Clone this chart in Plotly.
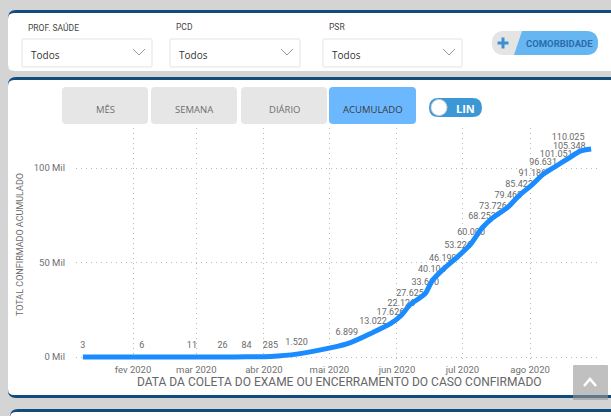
import plotly.graph_objects as go

# ---------------- data ----------------
dates = ["2020-01-09", "2020-02-05", "2020-02-28", "2020-03-13", "2020-03-24",
         "2020-04-04", "2020-04-16", "2020-05-09", "2020-05-21", "2020-05-29",
         "2020-06-03", "2020-06-07", "2020-06-14", "2020-06-17", "2020-06-22",
         "2020-06-29", "2020-07-05", "2020-07-10", "2020-07-15", "2020-07-22",
         "2020-07-27", "2020-08-02", "2020-08-07", "2020-08-13", "2020-08-19",
         "2020-08-24", "2020-08-29"]
values = [3, 6, 11, 26, 84, 285, 1520, 6899, 13022, 17626,
          22126, 27625, 33610, 40104, 46199, 53226, 60000, 68253, 73726, 79463,
          85422, 91186, 96631, 101051, 105348, 108900, 110025]
point_labels = ["3", "6", "11", "26", "84", "285", "1.520", "6.899", "13.022", "17.626",
                "22.126", "27.625", "33.610", "40.104", "46.199", "53.226", "60.000",
                "68.253", "73.726", "79.463", "85.422", "91.186", "96.631", "101.051",
                "105.348", "", "110.025"]

x_tick_vals = ["2020-02-01", "2020-03-01", "2020-04-01", "2020-05-01",
               "2020-06-01", "2020-07-01", "2020-08-01"]
x_tick_text = ["fev 2020", "mar 2020", "abr 2020", "mai 2020",
               "jun 2020", "jul 2020", "ago 2020"]
y_tick_vals = [0, 50000, 100000]
y_tick_text = ["0 Mil", "50 Mil", "100 Mil"]

filters = ["PROF. SAÚDE", "PCD", "PSR"]
filter_values = ["Todos", "Todos", "Todos"]
buttons = ["MÊS", "SEMANA", "DIÁRIO", "ACUMULADO"]
active_button = "ACUMULADO"

# ---------------- geometry helpers ----------------
W, H = 611, 416
L, R, T, B = 76, 13, 128, 54
PW = W - L - R
PH = H - T - B


def px(x):
    return (x - L) / PW


def py(y):
    return (H - B - y) / PH


def pt(x, y):
    return f"{px(x):.5f},{py(y):.5f}"


def rrect(x0, y0, x1, y1, r, tl=True, tr=True, br=True, bl=True):
    p = []
    p.append("M" + pt(x0 + (r if tl else 0), y0))
    if tr:
        p.append("L" + pt(x1 - r, y0))
        p.append("Q" + pt(x1, y0) + " " + pt(x1, y0 + r))
    else:
        p.append("L" + pt(x1, y0))
    if br:
        p.append("L" + pt(x1, y1 - r))
        p.append("Q" + pt(x1, y1) + " " + pt(x1 - r, y1))
    else:
        p.append("L" + pt(x1, y1))
    if bl:
        p.append("L" + pt(x0 + r, y1))
        p.append("Q" + pt(x0, y1) + " " + pt(x0, y1 - r))
    else:
        p.append("L" + pt(x0, y1))
    if tl:
        p.append("L" + pt(x0, y0 + r))
        p.append("Q" + pt(x0, y0) + " " + pt(x0 + r, y0))
    else:
        p.append("L" + pt(x0, y0))
    p.append("Z")
    return " ".join(p)


shapes = []
annotations = []


def add_path(path, fill=None, line_color=None, line_width=0, layer="above"):
    shapes.append(dict(type="path", xref="paper", yref="paper", path=path,
                       fillcolor=fill if fill else "rgba(0,0,0,0)",
                       line=dict(color=line_color if line_color else "rgba(0,0,0,0)",
                                 width=line_width),
                       layer=layer))


def add_text(x, y, text, size, color, family="Open Sans, sans-serif",
             xanchor="center", angle=0):
    annotations.append(dict(x=px(x), y=py(y), xref="paper", yref="paper", text=text,
                            showarrow=False, xanchor=xanchor, yanchor="middle",
                            textangle=angle,
                            font=dict(size=size, color=color, family=family)))


BLUE_DARK = "#134b7c"

# panels
add_path(rrect(8, 10, 640, 71, 8), fill=BLUE_DARK, layer="below")
add_path(rrect(8, 13, 640, 71, 6), fill="white", layer="below")
add_path(rrect(8, 77, 640, 398, 8), fill=BLUE_DARK, layer="below")
add_path(rrect(8, 80, 640, 395, 6), fill="white", layer="below")
add_path(rrect(10, 409, 640, 440, 8), fill=BLUE_DARK, layer="below")
add_path(rrect(10, 412, 640, 440, 6), fill="white", layer="below")

# filter dropdowns
filter_boxes = [(22, 152), (170, 300), (323, 462)]
for (x0, x1), lab, val in zip(filter_boxes, filters, filter_values):
    add_path(rrect(x0, 39, x1, 67, 1), fill="white", line_color="#e3e3e3", line_width=1)
    cx = x1 - 13
    add_path("M" + pt(cx - 6, 49) + " L" + pt(cx, 55) + " L" + pt(cx + 6, 49),
             line_color="#9a9a9a", line_width=1)
    add_text(x0 + 4, 27, lab, 8.5, "#444444", family="Roboto, sans-serif", xanchor="left")
    add_text(x0 + 7, 55, val, 10, "#333333", xanchor="left")

# comorbidade pill
add_path(rrect(492, 31, 598, 55, 12), fill="#e4e4e4")
add_path("M" + pt(522, 31) + " L" + pt(586, 31) + " Q" + pt(598, 31) + " " + pt(598, 43)
         + " Q" + pt(598, 55) + " " + pt(586, 55) + " L" + pt(514, 55) + " Z",
         fill="#66b6f2")
add_path("M" + pt(503, 37.5) + " L" + pt(503, 48.5) + " M" + pt(497.5, 43) + " L" + pt(508.5, 43),
         line_color="#3d8fd4", line_width=3)
add_text(559, 43.5, "<b>COMORBIDADE</b>", 9.5, "#2b6cab", family="Roboto, sans-serif")

# period buttons
btn_pos = [(62, 148), (151, 237), (241, 327), (329, 416)]
for (x0, x1), lab in zip(btn_pos, buttons):
    active = lab == active_button
    add_path(rrect(x0, 87, x1, 124, 4), fill="#6cb8ff" if active else "#e6e6e6")
    add_text((x0 + x1) / 2, 109, lab, 9.5, "#3a3a3a" if active else "#6e6e6e")

# LIN toggle
add_path(rrect(429, 98, 482, 117, 9.5), fill="#3b97d6")
shapes.append(dict(type="circle", xref="paper", yref="paper",
                   x0=px(431), x1=px(447), y0=py(115.5), y1=py(99.5),
                   fillcolor="white", line=dict(color="#cfcfcf", width=1)))
add_text(465, 108, "<b>LIN</b>", 11, "white")

# axis titles
add_text(20, 245, "TOTAL CONFIRMADO ACUMULADO", 9, "#6a6a6a",
         family="Roboto, sans-serif", angle=-90)
add_text(339, 382, "DATA DA COLETA DO EXAME OU ENCERRAMENTO DO CASO CONFIRMADO", 12,
         "#666666", family="Roboto, sans-serif")

# scroll-to-top button
add_path(rrect(573, 365, 608, 400, 1), fill="rgba(150,150,150,0.6)")
add_path("M" + pt(584, 386) + " L" + pt(590, 379) + " L" + pt(596, 386),
         line_color="white", line_width=2.5)

# ---------------- traces ----------------
text_pos = ["top center"] * (len(values) - 1) + ["top left"]

fig = go.Figure()
fig.add_trace(go.Scatter(
    x=dates, y=values, mode="markers+text", text=point_labels, textposition=text_pos,
    textfont=dict(size=9, color="#6a6a6a", family="Roboto, sans-serif"),
    marker=dict(size=9, opacity=0), cliponaxis=False, hoverinfo="skip",
    showlegend=False))
fig.add_trace(go.Scatter(
    x=dates, y=values, mode="lines",
    line=dict(color="#1a8cff", width=5, shape="spline", smoothing=0.7),
    cliponaxis=False, hoverinfo="skip", showlegend=False))

grid = dict(showgrid=True, gridcolor="#b9b9b9", griddash="1px,4px", gridwidth=1,
            zeroline=False, showline=False, ticks="",
            tickfont=dict(size=9.5, color="#707070", family="Roboto, sans-serif"))

fig.update_layout(
    width=W, height=H,
    margin=dict(l=L, r=R, t=T, b=B),
    paper_bgcolor="#d4d4d4",
    plot_bgcolor="rgba(0,0,0,0)",
    shapes=shapes,
    annotations=annotations,
    showlegend=False,
    xaxis=dict(type="date", range=["2020-01-05 20:38", "2020-09-01 03:36"],
               tickvals=x_tick_vals, ticktext=x_tick_text, **grid),
    yaxis=dict(range=[-2646, 121164], tickvals=y_tick_vals, ticktext=y_tick_text,
               ticklabelstandoff=10, **grid),
)

fig.write_html("out.html", include_plotlyjs=True, full_html=True,
               config={"displayModeBar": False},
               post_script="document.body.style.margin='0';document.body.style.overflow='hidden';")
